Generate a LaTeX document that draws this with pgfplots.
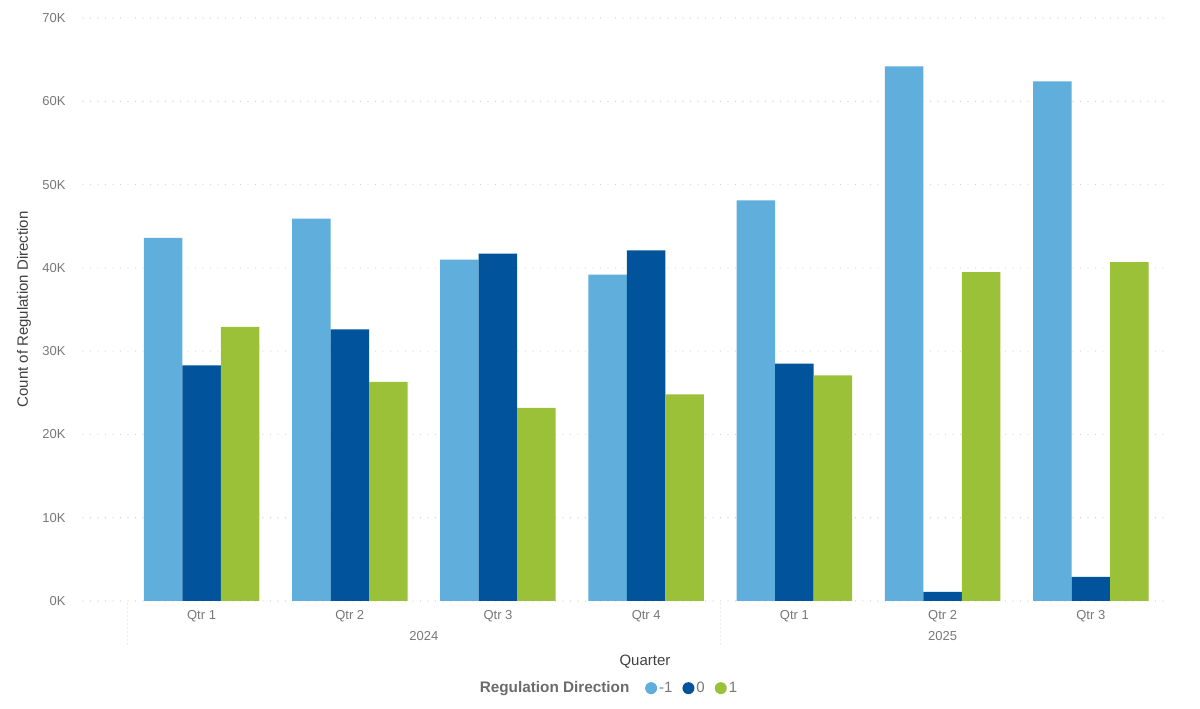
\documentclass[border=0pt]{standalone}
\usepackage{pgfplots}
\pgfplotsset{compat=1.18}
\usepackage{fontspec}
\setmainfont{Liberation Sans}

\definecolor{cneg}{HTML}{60AEDB}
\definecolor{czero}{HTML}{01539C}
\definecolor{cpos}{HTML}{9BC138}
\definecolor{ticktext}{HTML}{777777}
\definecolor{titletext}{HTML}{404040}
\definecolor{gridc}{HTML}{C8C8C8}

\begin{document}
\begin{tikzpicture}
% whole picture: 1200 x 709, axis lower left at pixel (83,601)
\path[use as bounding box] (-83pt,-108pt) rectangle (1117pt,601pt);
\begin{axis}[
    at={(0pt,0pt)}, anchor=south west,
    scale only axis,
    width=1082pt, height=583pt,
    ybar=0pt, bar width=38.5pt,
    xmin=-0.8, xmax=6.5,
    ymin=0, ymax=70000,
    xtick={0,...,6},
    xticklabels={Qtr 1,Qtr 2,Qtr 3,Qtr 4,Qtr 1,Qtr 2,Qtr 3},
    ytick={0,10000,...,70000},
    yticklabels={0K,10K,20K,30K,40K,50K,60K,70K},
    scaled y ticks=false,
    major tick length=0pt,
    axis line style={draw=none},
    ymajorgrids,
    grid style={gridc, line width=1.1pt, dash pattern=on 0pt off 7.5pt, line cap=round},
    xticklabel style={font=\fontsize{13}{15}\selectfont, text=ticktext, yshift=-6pt},
    yticklabel style={font=\fontsize{13}{15}\selectfont, text=ticktext, xshift=-14pt},
    ylabel={Count of Regulation Direction},
    ylabel style={font=\fontsize{15}{17}\selectfont, text=titletext,
        at={(rel axis cs:-0.0545,0.5)}, anchor=center},
    clip=false,
    legend columns=-1,
    legend style={draw=none, fill=none, at={(rel axis cs:0.5166,-0.1495)}, anchor=west,
        font=\fontsize{15}{17}\selectfont, text=ticktext,
        /tikz/every even column/.append style={column sep=8pt}},
    legend image code/.code={\fill[#1] (0.12cm,0cm) circle (6pt);},
]
\addplot[draw=none, fill=cneg] coordinates {
    (0,43600) (1,45900) (2,41000) (3,39200) (4,48100) (5,64200) (6,62400)};
\addplot[draw=none, fill=czero] coordinates {
    (0,28300) (1,32600) (2,41700) (3,42100) (4,28500) (5,1100) (6,2900)};
\addplot[draw=none, fill=cpos] coordinates {
    (0,32900) (1,26300) (2,23200) (3,24800) (4,27100) (5,39500) (6,40700)};
\legend{-1,0,1}

% year separators and labels
\draw[gridc, line width=1pt, dash pattern=on 0pt off 4pt, line cap=round]
    ([yshift=-3pt]axis cs:-0.5,0) -- ([yshift=-45pt]axis cs:-0.5,0);
\draw[gridc, line width=1pt, dash pattern=on 0pt off 4pt, line cap=round]
    ([yshift=-3pt]axis cs:3.5,0) -- ([yshift=-45pt]axis cs:3.5,0);
\node[font=\fontsize{13}{15}\selectfont, text=ticktext] at ([yshift=-35pt]axis cs:1.5,0) {2024};
\node[font=\fontsize{13}{15}\selectfont, text=ticktext] at ([yshift=-35pt]axis cs:5,0) {2025};
\node[font=\fontsize{15}{17}\selectfont, text=titletext] at (rel axis cs:0.5194,-0.1045) {Quarter};
\node[font=\bfseries\fontsize{15.3}{17}\selectfont, text=ticktext!90!black, anchor=east]
    at (rel axis cs:0.5083,-0.1495) {Regulation Direction};
\end{axis}
\end{tikzpicture}
\end{document}
